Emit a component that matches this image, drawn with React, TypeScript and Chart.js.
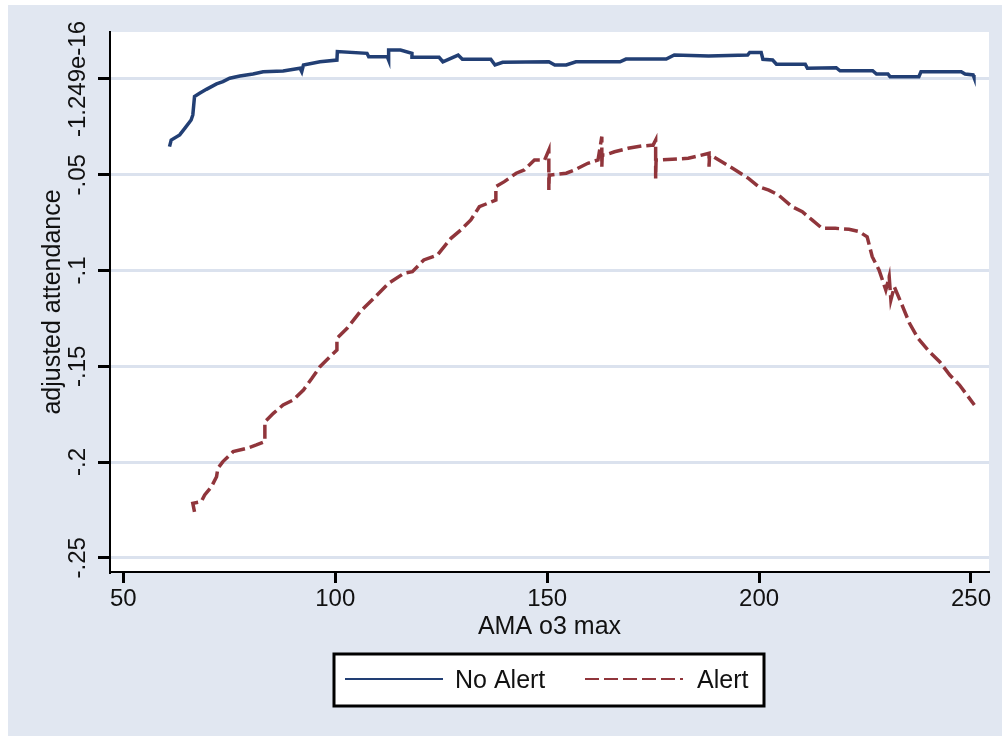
import React, { useEffect, useRef } from "react";
import { Chart, registerables } from "chart.js";

Chart.register(...registerables);

// ---- data ----
const seriesNames = ["No Alert", "Alert"];

const noAlertX = [60.9, 61.3, 63.3, 64.5, 66.0, 66.4, 66.8, 68.0, 69.6, 72.0, 73.5, 75.1, 77.5, 80.6, 83.0, 87.7, 91.7, 92.1, 92.5, 96.4, 100.4, 100.5, 107.5, 107.9, 112.3, 112.6, 112.6, 115.4, 118.1, 118.1, 124.5, 125.4, 129.0, 130.0, 136.7, 137.7, 139.5, 150.4, 151.8, 154.5, 156.8, 167.2, 168.6, 178.1, 180.0, 188.1, 197.3, 197.8, 200.5, 200.9, 203.2, 204.1, 210.9, 211.4, 218.2, 219.1, 226.8, 227.7, 230.4, 230.9, 237.7, 238.2, 247.7, 248.6, 250.5, 250.7];
const noAlertY = [-0.0353, -0.0319, -0.0292, -0.0258, -0.0214, -0.0188, -0.0092, -0.0075, -0.0054, -0.0026, -0.0014, 0.0004, 0.0016, 0.0026, 0.0038, 0.0042, 0.0056, 0.0038, 0.0073, 0.009, 0.0099, 0.0143, 0.0134, 0.0116, 0.0116, 0.0099, 0.0151, 0.0151, 0.0134, 0.0113, 0.0113, 0.009, 0.0125, 0.0103, 0.0103, 0.0073, 0.0087, 0.009, 0.0073, 0.0073, 0.009, 0.009, 0.0104, 0.0104, 0.0125, 0.012, 0.0125, 0.0139, 0.0139, 0.0103, 0.0099, 0.0077, 0.0077, 0.0056, 0.0059, 0.0043, 0.0043, 0.0026, 0.0026, 0.0012, 0.0012, 0.0038, 0.0038, 0.0026, 0.0021, 0.0009];

const alertX = [66.8, 66.4, 68.4, 69.2, 70.8, 72.0, 72.3, 73.5, 75.9, 79.1, 81.4, 83.4, 83.4, 85.4, 87.7, 90.1, 92.5, 94.5, 96.4, 100.4, 100.4, 102.8, 105.9, 109.1, 112.6, 116.2, 118.2, 120.9, 124.1, 127.3, 129.6, 132.0, 134.0, 136.0, 137.9, 137.9, 139.9, 142.7, 144.6, 147.0, 149.4, 150.4, 150.4, 150.5, 150.9, 154.5, 156.5, 159.6, 162.0, 162.9, 162.9, 163.0, 163.6, 165.9, 169.1, 172.3, 175.0, 175.6, 175.6, 175.7, 176.2, 183.3, 188.2, 188.2, 188.3, 188.9, 191.2, 194.4, 197.5, 199.9, 202.3, 204.6, 207.8, 210.2, 212.5, 214.9, 218.0, 221.2, 223.6, 225.5, 226.7, 228.3, 229.9, 230.7, 231.1, 231.9, 233.9, 235.5, 237.5, 240.2, 242.6, 245.0, 247.3, 250.8];
const alertY = [-0.226, -0.2216, -0.2207, -0.2172, -0.2129, -0.2077, -0.2033, -0.1998, -0.1946, -0.1929, -0.1911, -0.1894, -0.179, -0.1746, -0.1702, -0.1676, -0.1624, -0.1563, -0.1502, -0.1415, -0.1354, -0.1302, -0.1215, -0.1145, -0.1067, -0.1015, -0.1006, -0.0945, -0.0919, -0.0832, -0.0789, -0.0736, -0.0667, -0.0649, -0.0632, -0.0562, -0.0536, -0.0492, -0.0475, -0.0423, -0.0423, -0.0371, -0.058, -0.0501, -0.0501, -0.0492, -0.0475, -0.044, -0.0423, -0.0301, -0.0458, -0.0397, -0.0397, -0.038, -0.0362, -0.035, -0.0345, -0.0319, -0.0519, -0.0423, -0.0423, -0.0414, -0.0388, -0.0458, -0.0402, -0.0402, -0.0432, -0.0475, -0.0519, -0.0562, -0.058, -0.0606, -0.0667, -0.0693, -0.0736, -0.078, -0.078, -0.0785, -0.0797, -0.0824, -0.0928, -0.0997, -0.1102, -0.1032, -0.1154, -0.1085, -0.1189, -0.1276, -0.1354, -0.1424, -0.1476, -0.1546, -0.1598, -0.1702];

const xTickValues = [50, 100, 150, 200, 250];
const yTickValues = [-0.25, -0.2, -0.15, -0.1, -0.05, -1.249e-16];
const yTickLabels = ["-.25", "-.2", "-.15", "-.1", "-.05", "-1.249e-16"];
const xTitle = "AMA o3 max";
const yTitle = "adjusted attendance";

// ---- styles ----
const BG = "#E1E7F1";
const GRID = "#DBE2EE";
const BLUE = "#223F74";
const RED = "#90353B";
const FONT = "'Liberation Sans', Arial, Helvetica, sans-serif";
const W = 994;
const H = 731;

const stataPlugin = {
  id: "stataDecor",
  beforeDraw(chart: any) {
    const { ctx, chartArea: a } = chart;
    ctx.save();
    ctx.fillStyle = "#ffffff";
    ctx.fillRect(a.left, a.top, a.right - a.left, a.bottom - a.top);
    ctx.restore();
  },
  afterDraw(chart: any) {
    const { ctx, chartArea: a } = chart;
    const ys = chart.scales.y;
    ctx.save();
    ctx.fillStyle = "#111111";
    // y tick labels, rotated
    ctx.font = `24px ${FONT}`;
    ys.ticks.forEach((t: any, i: number) => {
      const py = ys.getPixelForValue(t.value);
      ctx.save();
      ctx.translate(77, py);
      ctx.rotate(-Math.PI / 2);
      ctx.textAlign = "center";
      ctx.textBaseline = "alphabetic";
      ctx.fillText(yTickLabels[i], 0, 0);
      ctx.restore();
    });
    // y title
    ctx.font = `25px ${FONT}`;
    ctx.save();
    ctx.translate(52, (a.top + a.bottom) / 2);
    ctx.rotate(-Math.PI / 2);
    ctx.textAlign = "center";
    ctx.textBaseline = "alphabetic";
    ctx.fillText(yTitle, 0, 0);
    ctx.restore();
    // x title
    ctx.textAlign = "center";
    ctx.textBaseline = "alphabetic";
    ctx.fillText(xTitle, (a.left + a.right) / 2, 629);
    // legend
    const bx = 326, by = 649, bw = 430, bh = 52;
    ctx.fillStyle = "#ffffff";
    ctx.fillRect(bx, by, bw, bh);
    ctx.strokeStyle = "#000000";
    ctx.lineWidth = 3;
    ctx.strokeRect(bx, by, bw, bh);
    const items = [
      { x1: 337, x2: 435, tx: 447 },
      { x1: 577, x2: 675, tx: 689 },
    ];
    chart.data.datasets.forEach((ds: any, i: number) => {
      const it = items[i];
      ctx.save();
      ctx.strokeStyle = ds.borderColor;
      ctx.lineWidth = 2;
      ctx.setLineDash(ds.borderDash || []);
      ctx.beginPath();
      ctx.moveTo(it.x1, 674);
      ctx.lineTo(it.x2, 674);
      ctx.stroke();
      ctx.restore();
      ctx.fillStyle = "#111111";
      ctx.textAlign = "left";
      ctx.fillText(ds.label, it.tx, 683);
    });
    ctx.restore();
  },
};

export default function App() {
  const ref = useRef<HTMLCanvasElement>(null);
  useEffect(() => {
    const canvas = ref.current!;
    Chart.defaults.font.family = FONT;
    const chart = new Chart(canvas, {
      type: "scatter",
      data: {
        datasets: [
          {
            label: seriesNames[0],
            data: noAlertX.map((x, i) => ({ x, y: noAlertY[i] })),
            showLine: true,
            borderColor: BLUE,
            backgroundColor: BLUE,
            borderWidth: 3.5,
            pointRadius: 0,
            tension: 0,
            fill: false,
          },
          {
            label: seriesNames[1],
            data: alertX.map((x, i) => ({ x, y: alertY[i] })),
            showLine: true,
            borderColor: RED,
            backgroundColor: RED,
            borderWidth: 3.5,
            borderDash: [14, 5],
            pointRadius: 0,
            tension: 0,
            fill: false,
          },
        ],
      },
      options: {
        responsive: false,
        animation: false,
        devicePixelRatio: 1,
        layout: { padding: { left: 0, top: 27, right: 13, bottom: 0 } },
        plugins: {
          legend: { display: false },
          tooltip: { enabled: false },
          title: { display: false },
        },
        scales: {
          x: {
            type: "linear",
            position: "bottom",
            min: 46.86,
            max: 254.25,
            afterBuildTicks: (s: any) => {
              s.ticks = xTickValues.map((v) => ({ value: v }));
            },
            afterFit: (s: any) => {
              s.height = 164;
            },
            grid: {
              drawOnChartArea: false,
              drawTicks: true,
              tickLength: 11,
              tickWidth: 3,
              tickColor: "#000000",
            },
            border: { display: true, color: "#000000", width: 2 },
            ticks: {
              color: "#111111",
              font: { size: 24, family: FONT },
              padding: 2,
              maxRotation: 0,
              minRotation: 0,
              autoSkip: false,
            },
          },
          y: {
            type: "linear",
            position: "left",
            min: -0.25744,
            max: 0.02454,
            afterBuildTicks: (s: any) => {
              s.ticks = yTickValues.map((v) => ({ value: v }));
            },
            afterFit: (s: any) => {
              s.width = 102;
            },
            grid: {
              color: GRID,
              lineWidth: 3,
              drawTicks: true,
              tickLength: 12,
              tickWidth: 3,
              tickColor: "#000000",
            },
            border: { display: true, color: "#000000", width: 2 },
            ticks: { display: false },
          },
        },
      } as any,
      plugins: [stataPlugin],
    });
    return () => chart.destroy();
  }, []);

  return (
    <div
      style={{
        position: "fixed",
        left: 8,
        top: 5,
        width: W,
        height: H,
        background: BG,
      }}
    >
      <canvas ref={ref} width={W} height={H} style={{ display: "block" }} />
    </div>
  );
}
